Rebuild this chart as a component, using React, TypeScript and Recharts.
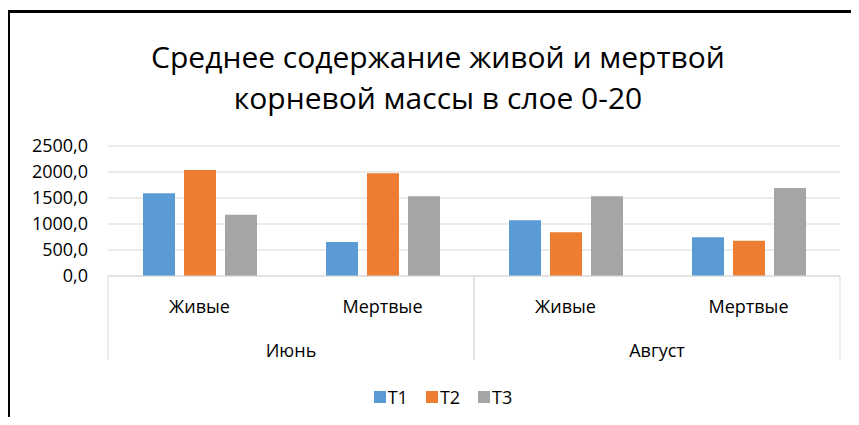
import { BarChart, Bar, XAxis, YAxis, CartesianGrid, Legend } from 'recharts';

const categories = ['Живые', 'Мертвые', 'Живые', 'Мертвые'];
const months = ['Июнь', 'Июнь', 'Август', 'Август'];
const t1 = [1590, 655, 1070, 745];
const t2 = [2040, 1975, 840, 680];
const t3 = [1180, 1535, 1535, 1690];
const yTicks = [0, 500, 1000, 1500, 2000, 2500];

const seriesNames = ['T1', 'T2', 'T3'];
const colors = ['#5B9BD5', '#ED7D31', '#A5A5A5'];

const data = categories.map((c, i) => ({
    key: `${months[i]}|${c}|${i}`,
    T1: t1[i],
    T2: t2[i],
    T3: t3[i],
}));

const FONT = '"Open Sans", sans-serif';

const CategoryTick = (props: any) => {
    const { x, y, payload } = props;
    const i = payload.index ?? props.index;
    const half = payload.offset ?? 0;
    const [month, cat] = String(payload.value).split('|');
    const first = i === 0 || months[i - 1] !== month;
    const last = i === months.length - 1 || months[i + 1] !== month;
    const groupSize = months.filter((m) => m === month).length;
    return (
        <g>
            <text x={x} y={y + 30} textAnchor="middle" dominantBaseline="central" fontSize={18} fill="#000" fontFamily={FONT}>
                {cat}
            </text>
            {first && (
                <>
                    <line x1={x - half} x2={x - half} y1={y} y2={y + 84} stroke="#d9d9d9" />
                    <text x={x - half + half * groupSize} y={y + 74} textAnchor="middle" dominantBaseline="central" fontSize={18} fill="#000" fontFamily={FONT}>
                        {month}
                    </text>
                </>
            )}
            {last && <line x1={x + half} x2={x + half} y1={y} y2={y + 84} stroke="#d9d9d9" />}
        </g>
    );
};

const LegendContent = () => (
    <div style={{ display: 'flex', justifyContent: 'center', gap: 18, paddingLeft: 38, fontFamily: FONT, fontSize: 18, lineHeight: '24px' }}>
        {seriesNames.map((n, i) => (
            <span key={n} style={{ display: 'flex', alignItems: 'center' }}>
                <span style={{ width: 12, height: 12, background: colors[i], marginRight: 2, display: 'inline-block' }} />
                {n}
            </span>
        ))}
    </div>
);

const App = () => {
    return (
        <div style={{ position: 'relative', width: 843, height: 409, overflow: 'hidden', background: '#fff' }}>
            <div style={{ position: 'absolute', left: -1, top: 2, width: 900, height: 500, borderTop: '3px solid #000', borderLeft: '3px solid #000' }} />
            <div style={{ position: 'absolute', left: 0, top: 28, width: 860, textAlign: 'center', fontFamily: FONT, fontSize: 30, lineHeight: '41px', color: '#000' }}>
                Среднее содержание живой и мертвой
                <br />
                корневой массы в слое 0-20
            </div>
            <div style={{ position: 'absolute', left: 0, top: 0 }}>
                <BarChart
                    width={843}
                    height={409}
                    data={data}
                    margin={{ top: 138, right: 11, left: 0, bottom: 8 }}
                    barCategoryGap={35}
                    barGap={9}
                >
                    <CartesianGrid vertical={false} stroke="#d9d9d9" />
                    <XAxis
                        dataKey="key"
                        height={109}
                        interval={0}
                        tickSize={0}
                        tickMargin={0}
                        tickLine={false}
                        axisLine={{ stroke: '#d9d9d9' }}
                        tick={<CategoryTick />}
                    />
                    <YAxis
                        width={100}
                        domain={[0, 2500]}
                        ticks={yTicks}
                        interval={0}
                        axisLine={false}
                        tickLine={false}
                        tickSize={0}
                        tickMargin={20}
                        tick={{ fontSize: 18, fill: '#000', fontFamily: FONT }}
                        tickFormatter={(v: number) => v.toFixed(1).replace('.', ',')}
                    />
                    <Legend verticalAlign="bottom" height={24} content={<LegendContent />} />
                    {seriesNames.map((n, i) => (
                        <Bar key={n} dataKey={n} fill={colors[i]} isAnimationActive={false} />
                    ))}
                </BarChart>
            </div>
        </div>
    );
};

export default App;
